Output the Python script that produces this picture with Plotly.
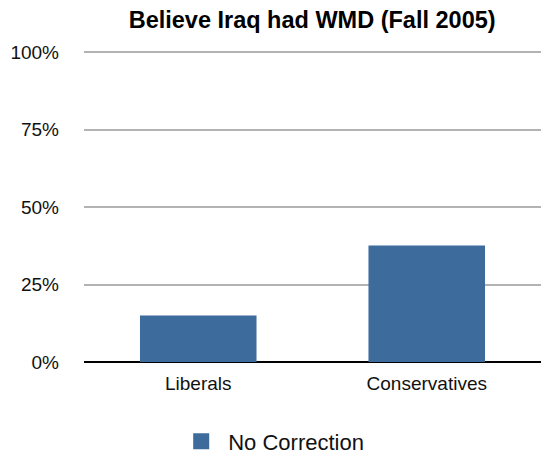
import plotly.graph_objects as go

categories = ["Liberals", "Conservatives"]
no_correction = [15.0, 37.6]
y_ticks = [0, 25, 50, 75, 100]
y_tick_labels = ["0%", "25%", "50%", "75%", "100%"]
bar_color = "#3d6b9c"

fig = go.Figure()
fig.add_trace(go.Bar(
    x=categories,
    y=no_correction,
    name="No Correction",
    marker=dict(color=bar_color, line=dict(width=0)),
    legendgroup="nc",
    showlegend=False,
))
# legend entry with a larger square swatch
fig.add_trace(go.Scatter(
    x=[None],
    y=[None],
    mode="markers",
    name="No Correction",
    legendgroup="nc",
    marker=dict(symbol="square", size=22, color=bar_color),
    showlegend=True,
))

fig.update_layout(
    width=541,
    height=456,
    margin=dict(l=84, r=0, t=49, b=94),
    paper_bgcolor="white",
    plot_bgcolor="white",
    font=dict(family="Liberation Sans, Arial, Helvetica, sans-serif", color="#111111", size=19),
    title=dict(
        text="<b>Believe Iraq had WMD (Fall 2005)</b>",
        xref="container", x=0.577, xanchor="center",
        yref="container", y=0.956, yanchor="middle",
        font=dict(size=23.5, color="#000000"),
    ),
    bargap=0.49,
    showlegend=True,
    legend=dict(
        orientation="h",
        xref="container", x=0.322, xanchor="left",
        yref="container", y=0.032, yanchor="middle",
        font=dict(size=22, color="#111111"),
        itemwidth=44,
    ),
)

fig.update_xaxes(
    showgrid=False,
    showline=False,
    ticks="",
    tickfont=dict(size=19),
    ticklabelstandoff=8,
)
fig.update_yaxes(
    range=[0, 101],
    tickvals=y_ticks,
    ticktext=y_tick_labels,
    showgrid=True,
    gridcolor="#b3b3b3",
    gridwidth=1.5,
    zeroline=True,
    zerolinecolor="#000000",
    zerolinewidth=1.5,
    showline=False,
    ticks="",
    ticklabelstandoff=24,
    tickfont=dict(size=19),
)

fig.write_html("out.html")
